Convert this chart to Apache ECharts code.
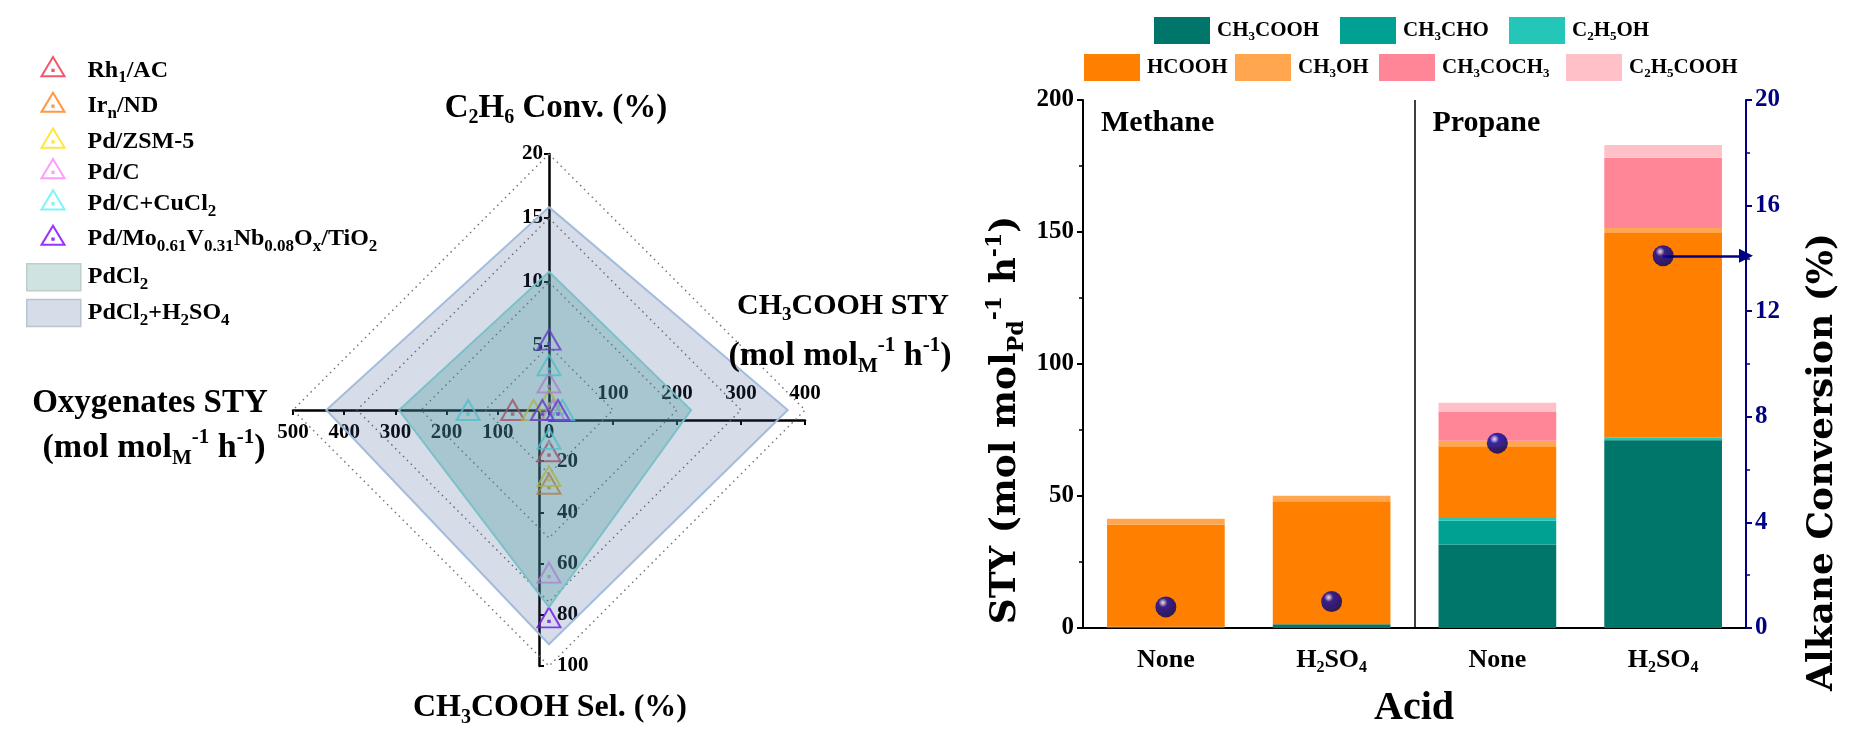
<!DOCTYPE html>
<html><head><meta charset="utf-8">
<script src="https://cdn.jsdelivr.net/npm/echarts@6/dist/echarts.min.js"></script>
<style>html,body{margin:0;padding:0;background:#fff}#c{width:1860px;height:740px}</style>
</head><body><div id="c"></div>
<script>
// ================= DATA =================
// Radar-like panel: axes order = top, right, bottom, left
const radarTitles = ['C_{2}H_{6} Conv. (%)', 'CH_{3}COOH STY', 'CH_{3}COOH Sel. (%)', 'Oxygenates STY'];
const radarUnit = '(mol mol_{M}^{-1} h^{-1})';
const radarMax = [20, 400, 100, 500];
const radarStep = [5, 100, 20, 100];
const catalysts = ['Rh_{1}/AC', 'Ir_{n}/ND', 'Pd/ZSM-5', 'Pd/C', 'Pd/C+CuCl_{2}', 'Pd/Mo_{0.61}V_{0.31}Nb_{0.08}O_{x}/TiO_{2}'];
const catalystColors = ['#F02D45', '#FF7F12', '#FFE010', '#FF84F8', '#62F0F0', '#7F00FF'];
// [C2H6 conv %, CH3COOH STY, CH3COOH sel %, oxygenates STY]  (null = not shown)
const rh1AC    = [null, null, 16.1, 71];
const irND     = [null, null, 28.8, null];
const pdZSM5   = [0.8, null, 25.8, 30];
const pdC      = [2.15, 6, 63.5, null];
const pdCCuCl2 = [3.5, 21, 11.3, 158];
const pdMoVNb  = [5.5, 14, 81, 13];
const baselineNames = ['PdCl_{2}', 'PdCl_{2}+H_{2}SO_{4}'];
const pdcl2      = [10.8, 222, 77, 293];
const pdcl2H2SO4 = [15.85, 373, 91.5, 435];

// Bar panel
const acidCats = ['None', 'H_{2}SO_{4}', 'None', 'H_{2}SO_{4}'];
const gasNames = ['Methane', 'Propane'];
const products = ['CH_{3}COOH', 'CH_{3}CHO', 'C_{2}H_{5}OH', 'HCOOH', 'CH_{3}OH', 'CH_{3}COCH_{3}', 'C_{2}H_{5}COOH'];
const productColors = ['#00766B', '#00A093', '#24C6B8', '#FF8000', '#FFA64F', '#FF8696', '#FFC0C8'];
const ch3cooh  = [0.5, 1.4, 31.6, 71.1];
const ch3cho   = [0, 0, 9.0, 0.4];
const c2h5oh   = [0, 0, 1.1, 0.6];
const hcooh    = [38.6, 46.6, 27.1, 77.5];
const ch3oh    = [2.3, 2.1, 2.1, 1.9];
const ch3coch3 = [0, 0, 11.1, 26.6];
const c2h5cooh = [0, 0, 3.3, 4.9];
const alkaneConv = [0.8, 1.0, 7.0, 14.1];
const styAxis = {min: 0, max: 200, interval: 50};
const convAxis = {min: 0, max: 20, interval: 4};

// ================= HELPERS =================
const SERIF = "'Liberation Serif','DejaVu Serif',serif";
const WIDE = "'DejaVu Serif','Liberation Serif',serif";
function toRich(str) {
  let out = '', buf = '', i = 0;
  const flush = () => { if (buf) { out += '{n|' + buf + '}'; buf = ''; } };
  while (i < str.length) {
    if ((str[i] === '_' || str[i] === '^') && str[i + 1] === '{') {
      flush();
      const j = str.indexOf('}', i);
      out += '{' + (str[i] === '_' ? 's' : 'p') + '|' + str.slice(i + 2, j) + '}';
      i = j + 1;
    } else { buf += str[i]; i++; }
  }
  flush();
  return out;
}
function richStyles(fs, family, color, ratio) {
  const r = ratio || 0.62;
  const pad = Math.round(fs * 0.62), sfs = Math.round(fs * r);
  return {
    n: {fontSize: fs, fontFamily: family, fontWeight: 'bold', color: color, lineHeight: fs + pad + 2},
    s: {fontSize: sfs, fontFamily: family, fontWeight: 'bold', color: color, padding: [pad, 0, 0, 0]},
    p: {fontSize: sfs, fontFamily: family, fontWeight: 'bold', color: color, padding: [0, 0, pad, 0]}
  };
}
function gText(x, y, str, fs, family, color, rot, ratio) {
  return {type: 'text', x: x, y: y, rotation: rot || 0, silent: true, z: 50,
    style: {text: toRich(str), rich: richStyles(fs, family, color, ratio), align: 'center', verticalAlign: 'middle'}};
}
const radarDir = [[0, 1], [1, 0], [0, -1], [-1, 0]];
function toXY(vals) {
  const pts = [];
  vals.forEach((v, k) => { if (v != null) pts.push([radarDir[k][0] * v / radarMax[k], radarDir[k][1] * v / radarMax[k]]); });
  return pts;
}

// ================= LAYOUT =================
const C = {x: 549, y: 410, r: 256};
const triPath = 'path://M12,0L24,20L0,20Z M11.3,13.3L12.7,13.3L12.7,14.7L11.3,14.7Z';
const catalystVals = [rh1AC, irND, pdZSM5, pdC, pdCCuCl2, pdMoVNb];
const tickFont = {fontFamily: SERIF, fontWeight: 'bold', fontSize: 21, color: '#000'};
const radAxisLine = {show: true, lineStyle: {color: '#000', width: 2.5}};
const radTick = {show: true, length: 5, lineStyle: {color: '#000', width: 2}};

const grids = [
  {left: C.x - C.r, top: C.y - C.r, width: 2 * C.r, height: 2 * C.r},      // 0 main radar plane
  {left: C.x, top: C.y - C.r, width: 10, height: C.r},                    // 1 top axis
  {left: C.x - 10, top: C.y, width: 10, height: C.r},                     // 2 bottom axis
  {left: C.x, top: C.y, width: C.r, height: 10},                          // 3 right axis
  {left: C.x - C.r, top: C.y - 10, width: C.r, height: 10},               // 4 left axis
  {left: 1083, top: 100, width: 663, height: 528}                         // 5 bar chart
];

const xAxes = [
  {gridIndex: 0, type: 'value', min: -1, max: 1, show: false},
  {gridIndex: 1, type: 'value', show: false},
  {gridIndex: 2, type: 'value', show: false},
  {gridIndex: 3, type: 'value', position: 'top', min: 0, max: radarMax[1], interval: radarStep[1],
    axisLine: radAxisLine, axisTick: Object.assign({inside: true}, radTick), splitLine: {show: false},
    axisLabel: Object.assign({margin: 6, showMinLabel: false}, tickFont)},
  {gridIndex: 4, type: 'value', position: 'bottom', inverse: true, min: 0, max: radarMax[3], interval: radarStep[3],
    axisLine: radAxisLine, axisTick: radTick, splitLine: {show: false},
    axisLabel: Object.assign({margin: 12}, tickFont)},
  {gridIndex: 5, type: 'category', data: acidCats, position: 'bottom',
    axisLine: {lineStyle: {color: '#000', width: 2}},
    axisTick: {alignWithLabel: true, length: 6, lineStyle: {color: '#000', width: 2}},
    axisLabel: {margin: 10, formatter: v => toRich(v), rich: richStyles(26, SERIF, '#000')}},
  {gridIndex: 5, type: 'value', position: 'top', min: 0, max: acidCats.length,
    axisLine: {show: true, lineStyle: {color: '#000', width: 1.5}}, axisTick: {show: false},
    axisLabel: {show: false}, splitLine: {show: false}}
];
const yAxes = [
  {gridIndex: 0, type: 'value', min: -1, max: 1, show: false},
  {gridIndex: 1, type: 'value', position: 'left', min: 0, max: radarMax[0], interval: radarStep[0],
    axisLine: radAxisLine, axisTick: radTick, splitLine: {show: false},
    axisLabel: Object.assign({margin: 6, showMinLabel: false}, tickFont)},
  {gridIndex: 2, type: 'value', position: 'right', inverse: true, min: 0, max: radarMax[2], interval: radarStep[2],
    axisLine: radAxisLine, axisTick: radTick, splitLine: {show: false},
    axisLabel: Object.assign({margin: 8, showMinLabel: false}, tickFont)},
  {gridIndex: 3, type: 'value', show: false},
  {gridIndex: 4, type: 'value', show: false},
  {gridIndex: 5, type: 'value', position: 'left', min: styAxis.min, max: styAxis.max, interval: styAxis.interval,
    axisLine: {show: true, lineStyle: {color: '#000', width: 2}},
    axisTick: {show: true, length: 6, lineStyle: {color: '#000', width: 2}},
    minorTick: {show: true, splitNumber: 2, length: 4, lineStyle: {color: '#000', width: 1.5}},
    splitLine: {show: false},
    axisLabel: {margin: 9, fontFamily: SERIF, fontWeight: 'bold', fontSize: 25, color: '#000'}},
  {gridIndex: 5, type: 'value', position: 'right', min: convAxis.min, max: convAxis.max, interval: convAxis.interval,
    axisLine: {show: true, lineStyle: {color: '#000080', width: 2}},
    axisTick: {show: true, length: 6, lineStyle: {color: '#000080', width: 2}},
    minorTick: {show: true, splitNumber: 2, length: 4, lineStyle: {color: '#000080', width: 1.5}},
    splitLine: {show: false},
    axisLabel: {margin: 9, fontFamily: SERIF, fontWeight: 'bold', fontSize: 25, color: '#000080'}}
];

// ================= SERIES =================
const series = [];
// dotted guide diamonds
[0.25, 0.5, 0.75, 1].forEach(L => {
  series.push({type: 'line', xAxisIndex: 0, yAxisIndex: 0, silent: true, symbol: 'none', z: 1,
    data: [[0, L], [L, 0], [0, -L], [-L, 0], [0, L]],
    lineStyle: {color: '#6f6f6f', width: 1.4, type: [1.5, 4]}});
});
// catalyst markers
catalysts.forEach((name, i) => {
  series.push({type: 'scatter', name: name, xAxisIndex: 0, yAxisIndex: 0, z: 2,
    symbol: triPath, symbolSize: [23, 20], data: toXY(catalystVals[i]),
    itemStyle: {color: 'rgba(0,0,0,0)', borderColor: catalystColors[i], borderWidth: 2}});
});
// baseline polygons
const polyFill = ['rgba(50,85,140,0.2)', 'rgba(70,150,160,0.32)'];
const polyStroke = ['rgba(160,185,218,0.95)', 'rgba(120,192,198,0.95)'];
[[pdcl2H2SO4, 1], [pdcl2, 0]].forEach(([vals, nameIdx]) => {
  const pts = toXY(vals);
  const styleIdx = nameIdx === 1 ? 0 : 1;
  series.push({type: 'custom', name: baselineNames[nameIdx], xAxisIndex: 0, yAxisIndex: 0, z: 3, silent: true,
    encode: {x: [0, 2, 4, 6], y: [1, 3, 5, 7]},
    data: [pts.flat()],
    itemStyle: {color: polyFill[styleIdx]},
    renderItem: (params, api) => {
      const p = [];
      for (let k = 0; k < 4; k++) p.push(api.coord([api.value(2 * k), api.value(2 * k + 1)]));
      return {type: 'polygon', shape: {points: p},
        style: {fill: polyFill[styleIdx], stroke: polyStroke[styleIdx], lineWidth: 2}};
    }});
});
// stacked bars
[ch3cooh, ch3cho, c2h5oh, hcooh, ch3oh, ch3coch3, c2h5cooh].forEach((arr, i) => {
  series.push({type: 'bar', name: products[i], stack: 'sty', xAxisIndex: 5, yAxisIndex: 5,
    barWidth: '71%', data: arr, itemStyle: {color: productColors[i]}});
});
// divider, panel labels
series.push({type: 'line', xAxisIndex: 6, yAxisIndex: 6, data: [], silent: true,
  markLine: {silent: true, symbol: ['none', 'none'], label: {show: false},
    lineStyle: {color: '#000', width: 1.5, type: 'solid'},
    data: [{xAxis: acidCats.length / 2}]},
  markArea: {silent: true, itemStyle: {color: 'rgba(0,0,0,0)'},
    label: {show: true, position: [18, 8], fontFamily: SERIF, fontWeight: 'bold', fontSize: 30, color: '#000'},
    data: gasNames.map((g, i) => [{xAxis: i * 2, name: g}, {xAxis: i * 2 + 2}])}});
// arrow to right axis
series.push({type: 'line', xAxisIndex: 6, yAxisIndex: 6, data: [], silent: true, z: 4,
  markLine: {silent: true, symbol: ['none', 'triangle'], symbolSize: 14, label: {show: false},
    itemStyle: {color: '#000080'},
    lineStyle: {color: '#000080', width: 2.5, type: 'solid'},
    data: [[{coord: [3.5, alkaneConv[3]]}, {coord: [acidCats.length, alkaneConv[3]]}]]}});
// conversion dots
series.push({type: 'scatter', name: 'conv', xAxisIndex: 6, yAxisIndex: 6, z: 10, symbol: 'circle', symbolSize: 21,
  data: alkaneConv.map((v, i) => [i + 0.5, v]),
  itemStyle: {color: {type: 'radial', x: 0.36, y: 0.3, r: 0.72,
    colorStops: [{offset: 0, color: '#f0f0ff'}, {offset: 0.12, color: '#9a9ae8'}, {offset: 0.3, color: '#0808a8'},
      {offset: 0.7, color: '#000088'}, {offset: 1, color: '#000058'}]}}});

// ================= LEGENDS =================
const legends = [];
const triRows = [66, 101.7, 137.5, 168, 199.3, 234.7];
catalysts.forEach((name, i) => {
  legends.push({top: triRows[i] - 10, left: 40.5, padding: 0, selectedMode: false,
    itemWidth: 23, itemHeight: 20, icon: triPath,
    itemStyle: {color: 'rgba(0,0,0,0)', borderColor: catalystColors[i], borderWidth: 2},
    formatter: n => toRich(n), textStyle: {padding: [8, 0, 0, 18], rich: richStyles(24, SERIF, '#000', 0.7)},
    data: [name]});
});
const polyRows = [277, 312.7];
const polyLegendFill = ['#CFE3E0', '#D6DDE8'];
const polyLegendBorder = ['#BCCFCC', '#BAC4D2'];
baselineNames.forEach((name, i) => {
  legends.push({top: polyRows[i] - 14, left: 26, padding: 0, selectedMode: false,
    itemWidth: 54, itemHeight: 27, icon: 'rect',
    itemStyle: {color: polyLegendFill[i], borderColor: polyLegendBorder[i], borderWidth: 1.5},
    formatter: n => toRich(n), textStyle: {padding: [0, 0, 0, 2], rich: richStyles(24, SERIF, '#000', 0.7)},
    data: [name]});
});
const prodLegendPos = [[1154, 31], [1340, 31], [1509, 31], [1084, 68], [1235, 68], [1379, 68], [1566, 68]];
products.forEach((name, i) => {
  legends.push({top: prodLegendPos[i][1] - 14, left: prodLegendPos[i][0], padding: 0, selectedMode: false,
    itemWidth: 56, itemHeight: 27, icon: 'rect', itemGap: 0,
    formatter: n => toRich(n), textStyle: {padding: [0, 0, 0, 2], rich: richStyles(21, SERIF, '#000')},
    data: [name]});
});

// ================= TITLES =================
const graphics = [
  gText(556, 108, radarTitles[0], 33, SERIF, '#000'),
  gText(843, 306, radarTitles[1], 30, SERIF, '#000'),
  gText(840, 356, radarUnit, 34, SERIF, '#000'),
  gText(550, 708, radarTitles[2], 32, SERIF, '#000'),
  gText(150, 403, radarTitles[3], 33, SERIF, '#000'),
  gText(154, 448, radarUnit, 34, SERIF, '#000'),
  gText(1006, 420, 'STY (mol mol_{Pd}^{-1} h^{-1})', 36, WIDE, '#000', Math.PI / 2),
  gText(1823, 462, 'Alkane Conversion (%)', 36, WIDE, '#000080', Math.PI / 2),
  gText(1414, 709, 'Acid', 40, SERIF, '#000')
];

const chart = echarts.init(document.getElementById('c'), null, {renderer: 'canvas'});
chart.setOption({
  animation: false,
  backgroundColor: '#fff',
  grid: grids, xAxis: xAxes, yAxis: yAxes,
  legend: legends, series: series,
  graphic: {elements: graphics}
});
</script></body></html>
